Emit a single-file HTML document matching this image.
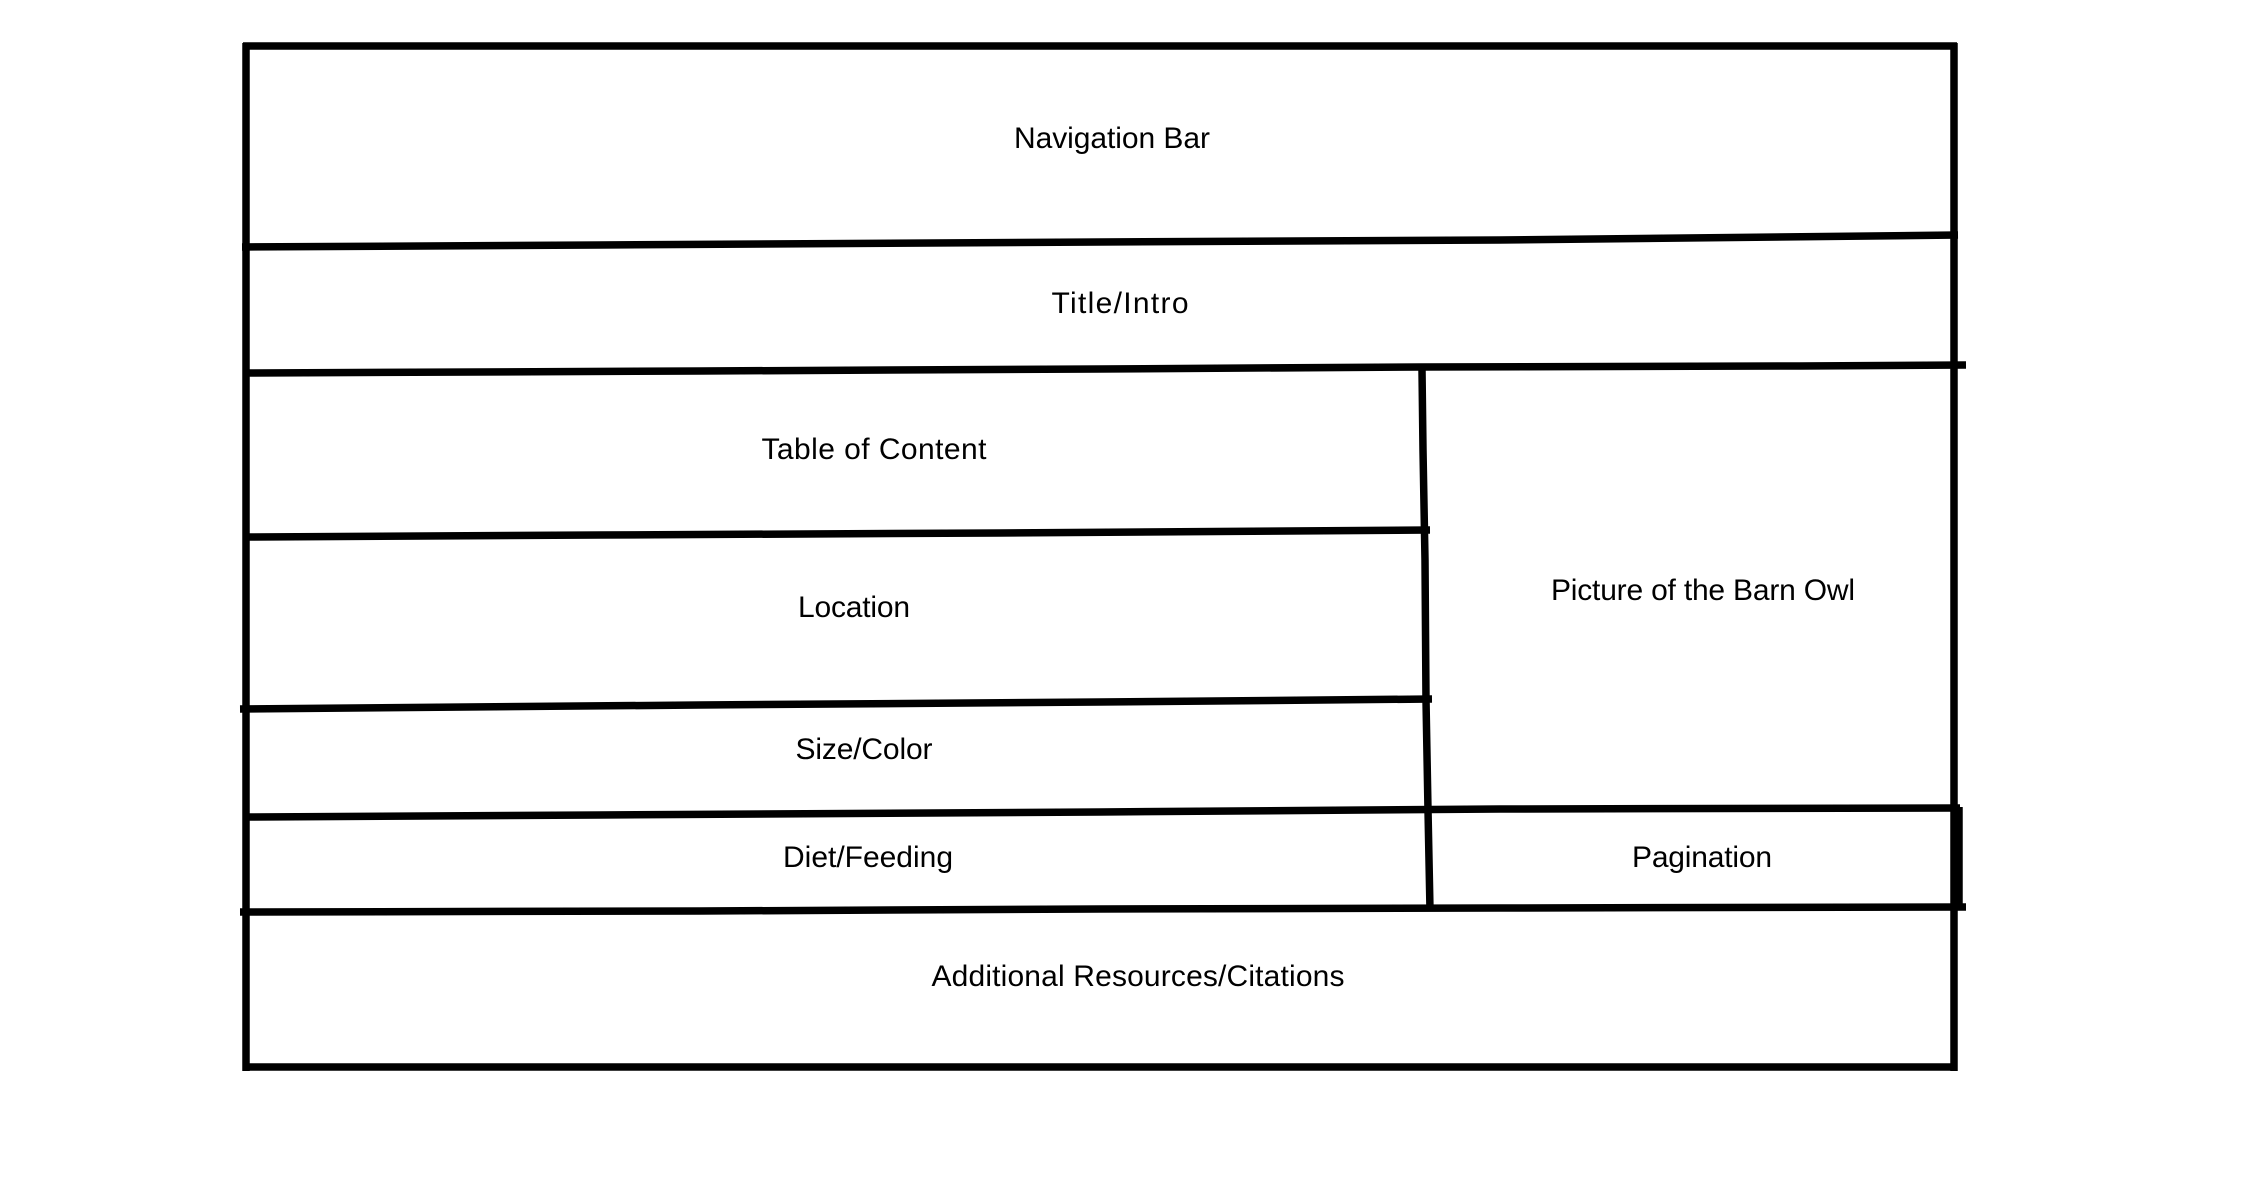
<!DOCTYPE html>
<html><head><meta charset="utf-8"><style>
html,body{margin:0;padding:0;background:#fff;}
svg{display:block;}
text{font-family:"Liberation Sans",sans-serif;font-size:30px;fill:#000;text-anchor:middle;dominant-baseline:middle;}
</style></head><body>
<svg width="2250" height="1194" viewBox="0 0 2250 1194" xmlns="http://www.w3.org/2000/svg">
<g stroke="#000" stroke-width="7.5" fill="none" stroke-linecap="butt">
<line x1="246" y1="43" x2="246" y2="1071"/>
<line x1="243" y1="46" x2="1957" y2="46"/>
<line x1="1954" y1="43" x2="1954" y2="1071"/>
<line x1="243" y1="1067" x2="1957" y2="1067"/>
<polyline points="242,247 600,245 1100,242 1500,240 1958,235"/>
<polyline points="246,373 700,371 1100,369 1420,367 1800,366 1966,365"/>
<polyline points="246,537 600,535 1000,533 1430,530"/>
<polyline points="240,709 700,705 1100,702 1432,699"/>
<polyline points="246,817 600,815 1100,812 1500,809 1960,808"/>
<polyline points="240,912 700,911 1100,909 1500,908 1966,907"/>
<polyline points="1422,370 1423,450 1425,560 1426,700 1428,810 1430,910"/>
<line x1="1959" y1="807" x2="1959" y2="910"/>
</g>
<text x="1112" y="140" textLength="196">Navigation Bar</text>
<text x="1120" y="305" textLength="137">Title/Intro</text>
<text x="874" y="451" textLength="225">Table of Content</text>
<text x="854" y="609" textLength="112">Location</text>
<text x="864" y="751" textLength="137">Size/Color</text>
<text x="868" y="859" textLength="170">Diet/Feeding</text>
<text x="1703" y="592" textLength="304">Picture of the Barn Owl</text>
<text x="1702" y="859" textLength="140">Pagination</text>
<text x="1138" y="978" textLength="413">Additional Resources/Citations</text>
</svg>
</body></html>
